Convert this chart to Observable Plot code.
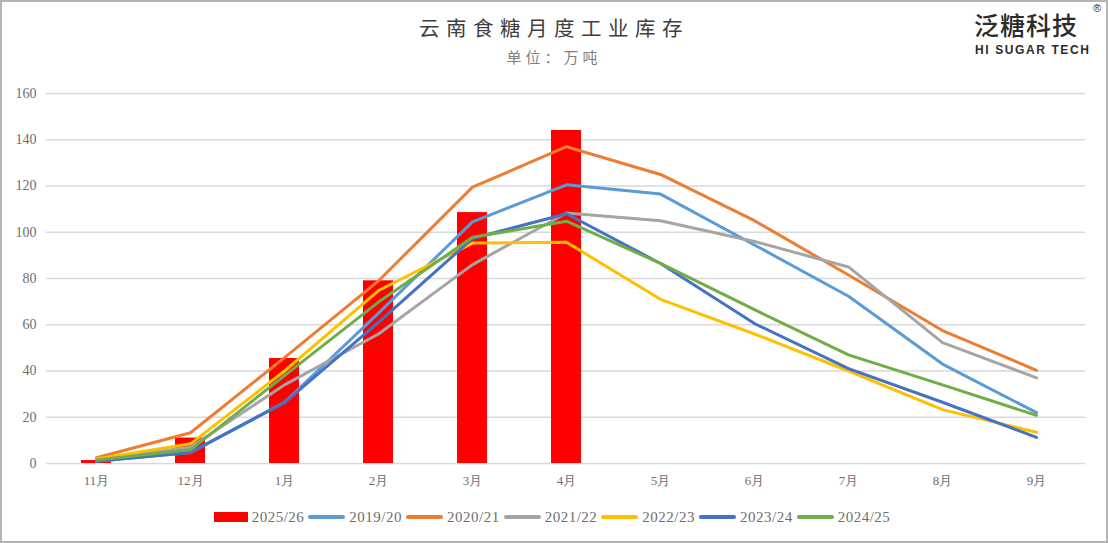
<!DOCTYPE html>
<html>
<head>
<meta charset="utf-8">
<script src="https://cdn.jsdelivr.net/npm/d3@7"></script>
<script src="https://cdn.jsdelivr.net/npm/@observablehq/plot@0.6"></script>
<style>
  html, body { margin: 0; padding: 0; background: #fff; }
  #wrap { position: relative; width: 1108px; height: 543px; overflow: hidden; background: #fff; }
  #frame { position: absolute; left: 0; top: 0; width: 1108px; height: 543px; box-sizing: border-box; border: 2px solid #b4b4b4; pointer-events: none; }
  #title { position: absolute; left: 0; width: 1108px; top: 15px; text-align: center; font-family: "Noto Sans CJK SC", sans-serif; font-size: 20.5px; letter-spacing: 6.5px; color: #404040; line-height: 24px; }
  #subtitle { position: absolute; left: 0; width: 1108px; top: 47px; text-align: center; font-family: "Noto Sans CJK SC", sans-serif; font-size: 15px; letter-spacing: 4px; color: #7f7f7f; line-height: 20px; }
  #logo1 { position: absolute; left: 974px; top: 9px; font-family: "Noto Sans CJK SC", sans-serif; font-weight: 500; font-size: 25px; letter-spacing: 1px; color: #2b2b2b; line-height: 30px; }
  #logo2 { position: absolute; left: 975px; top: 43px; font-family: "Liberation Sans", Arial, sans-serif; font-weight: bold; font-size: 12px; letter-spacing: 1.6px; color: #2b2b2b; line-height: 14px; }
  #reg { position: absolute; left: 1093px; top: 2px; font-family: "Liberation Sans", Arial, sans-serif; font-size: 11px; color: #2b2b2b; }
  #chart { position: absolute; left: 0; top: 80px; }
  #legend { position: absolute; left: 0; top: 508px; width: 1108px; display: flex; justify-content: center; align-items: center; font-family: "Liberation Serif", serif; font-size: 15px; letter-spacing: 0.5px; color: #6e6e6e; line-height: 18px; }
  .item { display: flex; align-items: center; margin-right: 4px; }
  .sw { display: inline-block; margin-right: 4px; }
</style>
</head>
<body>
<div id="wrap">
  <div id="title">云南食糖月度工业库存</div>
  <div id="subtitle">单位：万吨</div>
  <div id="logo1">泛糖科技</div>
  <div id="logo2">HI SUGAR TECH</div>
  <div id="reg">®</div>
  <div id="chart"></div>
  <div id="legend"></div>
  <div id="frame"></div>
</div>
<script>
const months = ["11月","12月","1月","2月","3月","4月","5月","6月","7月","8月","9月"];
const yTicks = [0, 20, 40, 60, 80, 100, 120, 140, 160];

const barName = "2025/26";
const bar2526 = [1.3, 11, 45.4, 79, 108.5, 144];

const lineNames = ["2019/20", "2020/21", "2021/22", "2022/23", "2023/24", "2024/25"];
const lineColors = ["#5B9BD5", "#ED7D31", "#A5A5A5", "#FFC000", "#4472C4", "#70AD47"];
const s1920 = [1, 4.7, 26.5, 65, 104.5, 120.5, 116.5, 94.5, 72.3, 43, 22];
const s2021 = [2.5, 13.3, 45.8, 79, 119.5, 137, 125, 105, 81.5, 57.5, 40.3];
const s2122 = [1.8, 7, 34, 56, 86, 108.3, 105, 96, 85, 52.3, 37];
const s2223 = [2, 8.5, 40, 74.8, 95.3, 95.7, 71, 56, 40, 23.3, 13.5];
const s2324 = [1, 4.8, 26.3, 61, 97.3, 108, 86.5, 60.5, 41, 26.5, 11.3];
const s2425 = [1.5, 5.9, 38, 69.8, 97.8, 104.8, 86.5, 66.5, 47, 34, 20.8];
const lineSeries = [s1920, s2021, s2122, s2223, s2324, s2425];

const bars = bar2526.map((v, i) => ({month: months[i], value: v}));
const lines = [];
lineSeries.forEach((arr, k) => arr.forEach((v, i) => lines.push({series: lineNames[k], month: months[i], value: v})));

const chart = Plot.plot({
  width: 1108,
  height: 415,
  marginLeft: 46,
  marginRight: 23,
  marginTop: 13,
  marginBottom: 32,
  style: {background: "transparent", fontFamily: "Liberation Serif, serif", color: "#6e6e6e", overflow: "visible"},
  x: {type: "band", domain: months, padding: 0, label: null},
  y: {domain: [0, 160], label: null},
  color: {domain: lineNames, range: lineColors},
  marks: [
    Plot.gridY(yTicks, {stroke: "#d9d9d9", strokeOpacity: 1, strokeWidth: 1.3}),
    Plot.axisY(yTicks, {tickSize: 0, tickPadding: 10, fontSize: 14, label: null, fill: "#6e6e6e"}),
    Plot.axisX({tickSize: 0, tickPadding: 12, fontSize: 13, label: null, fill: "#6e6e6e"}),
    Plot.barY(bars, {x: "month", y: "value", fill: "#FF0000", insetLeft: 32, insetRight: 32}),
    Plot.lineY(lines, {x: "month", y: "value", z: "series", stroke: "series", strokeWidth: 3, strokeLinejoin: "round", strokeLinecap: "round"})
  ]
});
document.getElementById("chart").appendChild(chart);

// Legend
const legend = document.getElementById("legend");
function addItem(name, swatchHtml) {
  const it = document.createElement("div");
  it.className = "item";
  it.innerHTML = swatchHtml + `<span>${name}</span>`;
  legend.appendChild(it);
}
addItem(barName, `<span class="sw" style="width:34px;height:10px;background:#FF0000"></span>`);
lineNames.forEach((n, i) => addItem(n, `<span class="sw" style="width:37px;height:3.5px;border-radius:2px;background:${lineColors[i]}"></span>`));
</script>
</body>
</html>
